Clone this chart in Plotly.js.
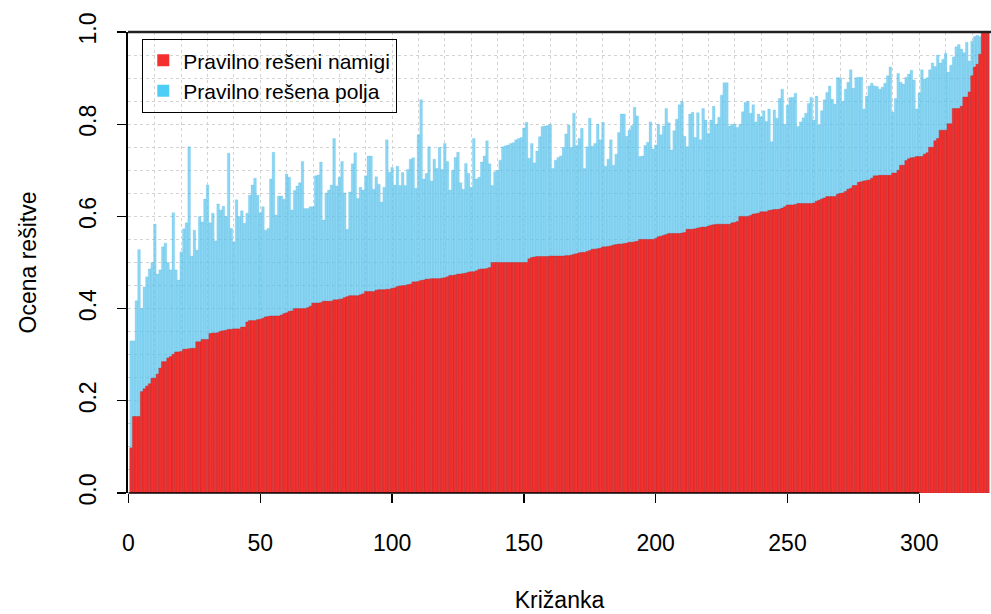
<!DOCTYPE html>
<html>
<head>
<meta charset="utf-8">
<script src="https://cdn.plot.ly/plotly-3.0.1.min.js"></script>
<style>html,body{margin:0;padding:0;background:#fff;}#chart{width:991px;height:614px;}</style>
</head>
<body>
<div id="chart"></div>
<script>
// Ocena rešitve: pravilno rešeni namigi (sorted) — 326 križank
const hintsScore = [
0.098,0.166,0.166,0.166,0.22,0.226,0.232,0.237,0.249,0.249,
0.258,0.271,0.285,0.285,0.293,0.296,0.301,0.306,0.306,0.307,
0.312,0.312,0.313,0.314,0.314,0.328,0.328,0.333,0.333,0.333,
0.346,0.347,0.347,0.348,0.351,0.352,0.353,0.355,0.355,0.356,
0.356,0.356,0.36,0.36,0.371,0.374,0.374,0.374,0.376,0.377,
0.379,0.382,0.383,0.384,0.384,0.384,0.384,0.386,0.389,0.391,
0.394,0.395,0.40,0.40,0.40,0.40,0.40,0.402,0.405,0.412,
0.412,0.412,0.413,0.416,0.416,0.416,0.416,0.419,0.419,0.42,
0.421,0.424,0.426,0.428,0.428,0.428,0.428,0.43,0.432,0.437,
0.437,0.437,0.437,0.44,0.441,0.441,0.441,0.442,0.442,0.444,
0.445,0.448,0.449,0.45,0.45,0.452,0.453,0.458,0.458,0.459,
0.461,0.462,0.464,0.464,0.465,0.465,0.465,0.465,0.466,0.467,
0.469,0.472,0.472,0.473,0.475,0.475,0.476,0.477,0.479,0.48,
0.48,0.482,0.485,0.486,0.486,0.487,0.489,0.50,0.50,0.50,
0.50,0.50,0.50,0.50,0.50,0.50,0.50,0.50,0.50,0.50,
0.50,
0.508,0.511,0.512,0.513,0.513,0.513,0.513,0.513,0.514,
0.514,0.514,0.514,0.514,0.514,0.515,0.515,0.516,0.518,0.519,
0.521,0.522,0.522,0.524,0.526,0.529,0.529,0.530,0.531,0.534,
0.534,0.535,0.536,0.538,0.539,0.54,0.54,0.541,0.542,0.544,
0.544,0.545,0.546,0.55,0.55,0.55,0.55,0.55,0.55,0.552,
0.556,0.557,0.559,0.561,0.563,0.563,0.563,0.563,0.563,0.564,
0.565,0.572,0.572,0.572,0.573,0.575,0.576,0.577,0.577,0.579,
0.581,0.582,0.583,0.583,0.583,0.583,0.583,0.583,0.586,0.587,
0.589,0.60,0.60,0.60,0.60,0.602,0.605,0.606,0.607,0.61,
0.61,0.61,0.613,0.614,0.615,0.615,0.616,0.618,0.621,0.625,
0.625,0.625,0.626,0.628,0.628,0.628,0.628,0.628,0.628,0.629,
0.633,0.635,0.638,0.64,0.643,0.643,0.643,0.643,0.648,0.65,
0.651,0.654,0.659,0.661,0.667,0.667,0.674,0.675,0.677,0.678,
0.679,0.683,0.688,0.688,0.689,0.689,0.689,0.689,0.689,0.694,
0.694,0.70,0.711,0.711,0.721,0.725,0.727,0.728,0.73,0.73,
0.73,0.735,0.738,0.75,0.75,0.764,0.769,0.787,0.787,0.787,
0.801,0.801,0.834,0.834,0.834,0.839,0.859,0.859,0.87,0.905,
0.924,0.93,0.952,1.0,1.0,1.0
];

// Ocena rešitve: pravilno rešena polja
const cellsScore = [
0.33,0.33,0.417,0.528,0.40,0.447,0.469,0.486,0.50,0.583,
0.475,0.484,0.534,0.542,0.50,0.484,0.608,0.484,0.462,0.523,
0.573,0.586,0.751,0.514,0.57,0.527,0.60,0.588,0.638,0.668,
0.586,0.607,0.547,0.627,0.614,0.622,0.60,0.737,
0.574,0.545,0.636,0.60,0.612,0.585,0.607,0.646,0.668,0.683,
0.646,0.608,0.621,0.57,0.574,0.681,0.739,0.603,0.644,0.644,
0.637,0.692,0.685,0.614,0.656,0.666,0.673,0.719,0.617,0.617,
0.621,0.621,0.688,0.69,0.718,0.592,0.651,0.657,0.668,0.769,
0.666,
0.685,0.719,0.651,0.572,0.653,0.714,0.738,0.639,0.663,0.657,
0.688,0.731,0.731,0.659,0.686,0.67,0.631,0.663,0.766,0.696,
0.706,0.668,0.709,0.667,0.695,0.667,0.702,0.724,0.727,0.661,
0.777,0.853,0.681,0.693,0.751,0.677,0.724,0.704,0.75,
0.702,0.758,0.719,0.657,0.70,0.728,0.739,0.673,0.659,0.715,
0.693,0.663,0.769,0.681,0.685,0.718,0.731,0.764,0.714,0.667,
0.697,0.70,0.722,0.751,0.753,0.755,0.758,0.76,0.766,0.769,
0.771,0.792,0.804,0.726,0.758,0.716,0.742,0.773,0.795,0.796,
0.797,0.80,0.704,0.722,0.728,0.731,0.75,0.779,0.798,0.75,
0.824,0.754,0.769,0.791,0.704,0.751,0.813,0.752,0.758,0.80,
0.766,0.804,0.709,0.724,0.766,0.711,0.735,0.782,0.822,0.822,
0.774,0.787,0.797,0.837,0.818,0.73,0.731,0.754,0.761,0.805,
0.746,0.755,0.80,0.777,0.796,0.834,0.803,0.744,0.786,0.811,
0.842,0.849,0.774,0.751,0.822,0.826,0.771,0.825,0.766,0.834,
0.809,0.78,0.809,0.839,0.80,0.815,0.863,0.89,0.89,0.796,
0.80,0.80,0.793,0.80,0.827,0.847,0.85,0.824,0.842,0.805,
0.822,0.816,0.829,0.806,0.833,0.762,0.831,0.813,0.856,0.876,
0.80,0.841,0.858,0.858,0.867,0.795,0.805,0.814,0.824,0.845,
0.858,0.809,0.861,0.798,0.829,0.853,0.869,0.883,0.854,0.844,
0.901,0.901,0.849,0.876,0.891,0.918,0.878,0.901,
0.902,0.902,0.833,0.861,0.883,0.889,0.883,0.882,0.876,0.88,
0.889,0.905,0.924,0.826,0.856,0.91,0.891,0.887,0.902,0.909,
0.917,0.896,0.833,0.868,0.918,0.898,0.901,0.918,0.933,0.925,
0.95,0.933,0.941,0.954,0.913,0.928,0.946,0.968,0.973,0.963,
0.955,0.978,0.937,0.98,0.99,0.993,0.99,1.0,1.0,1.0
];

const seriesNames = ["Pravilno rešeni namigi", "Pravilno rešena polja"];
const legendColors = ["#F4302E", "#4ECDF6"];
const xTickValues = [0, 50, 100, 150, 200, 250, 300];
const xTickLabels = ["0", "50", "100", "150", "200", "250", "300"];
const yTickValues = [0, 0.2, 0.4, 0.6, 0.8, 1.0];
const yTickLabels = ["0.0", "0.2", "0.4", "0.6", "0.8", "1.0"];
const xTitle = "Križanka";
const yTitle = "Ocena rešitve";

const crosswordIndex = hintsScore.map((_, i) => i + 1);

const FONT = "Liberation Sans, Arial, Helvetica, sans-serif";
const AXFS = 23;

const traces = [
  {
    type: "bar",
    name: seriesNames[1],
    x: crosswordIndex,
    y: cellsScore,
    width: 1,
    marker: { color: "rgba(90,197,236,0.7)", line: { color: "rgba(70,180,225,0.35)", width: 0.6 } },
    showlegend: false,
    hoverinfo: "x+y"
  },
  {
    type: "bar",
    name: seriesNames[0],
    x: crosswordIndex,
    y: hintsScore,
    width: 1,
    marker: { color: "#F3312F", line: { color: "rgba(190,25,25,0.55)", width: 0.6 } },
    showlegend: false,
    hoverinfo: "x+y"
  },
  // legend-only entries (saturated key colours, as in the original legend)
  {
    type: "bar", name: seriesNames[0], x: [null], y: [null],
    marker: { color: legendColors[0] }, showlegend: true, legendrank: 1, hoverinfo: "skip"
  },
  {
    type: "bar", name: seriesNames[1], x: [null], y: [null],
    marker: { color: legendColors[1] }, showlegend: true, legendrank: 2, hoverinfo: "skip"
  }
];

const layout = {
  width: 991,
  height: 614,
  margin: { l: 128, r: 0, t: 32, b: 121, pad: 0 },
  paper_bgcolor: "#ffffff",
  plot_bgcolor: "#ffffff",
  barmode: "overlay",
  bargap: 0,
  font: { family: FONT, size: AXFS, color: "#000" },
  showlegend: true,
  legend: {
    x: 0.0162, y: 0.985, xanchor: "left", yanchor: "top",
    bgcolor: "rgba(0,0,0,0)",
    bordercolor: "#000", borderwidth: 1.3,
    font: { family: FONT, size: 21, color: "#000" },
    traceorder: "normal",
    itemwidth: 30
  },
  xaxis: {
    range: [-0.19, 327.2],
    tickmode: "array",
    tickvals: xTickValues,
    ticktext: xTickLabels,
    ticks: "outside",
    ticklen: 9,
    tickwidth: 1.3,
    tickcolor: "#000",
    ticklabelstandoff: 20,
    tickfont: { family: FONT, size: AXFS, color: "#000" },
    showline: false,
    zeroline: false,
    showgrid: true,
    gridcolor: "#d3d3d3",
    griddash: "dot",
    gridwidth: 1,
    minor: { dtick: 10, tick0: 0, showgrid: true, gridcolor: "#d3d3d3", griddash: "dot", gridwidth: 1, ticks: "" },
    title: { text: xTitle, font: { family: FONT, size: AXFS, color: "#000" }, standoff: 37 },
    automargin: false,
    fixedrange: true
  },
  yaxis: {
    range: [0, 1],
    tickmode: "array",
    tickvals: yTickValues,
    ticktext: yTickLabels,
    tickangle: -90,
    ticks: "outside",
    ticklen: 9,
    tickwidth: 1.3,
    tickcolor: "#000",
    ticklabelstandoff: 12,
    tickfont: { family: FONT, size: AXFS, color: "#000" },
    showline: true,
    linecolor: "#000",
    linewidth: 2,
    zeroline: false,
    showgrid: true,
    gridcolor: "#d3d3d3",
    griddash: "dot",
    gridwidth: 1,
    minor: { dtick: 0.05, tick0: 0, showgrid: true, gridcolor: "#d3d3d3", griddash: "dot", gridwidth: 1, ticks: "" },
    title: { text: yTitle, font: { family: FONT, size: AXFS, color: "#000" }, standoff: 32 },
    automargin: false,
    fixedrange: true
  },
  shapes: [
    { type: "line", xref: "paper", yref: "paper", x0: 0, x1: 1, y0: 1, y1: 1, line: { color: "#222", width: 2.5 }, layer: "above" },
    { type: "line", xref: "x", yref: "paper", x0: 0, x1: 300, y0: 0, y1: 0, line: { color: "#000", width: 1.5 }, layer: "above" }
  ]
};

Plotly.newPlot("chart", traces, layout, { displayModeBar: false, staticPlot: true });
</script>
</body>
</html>
